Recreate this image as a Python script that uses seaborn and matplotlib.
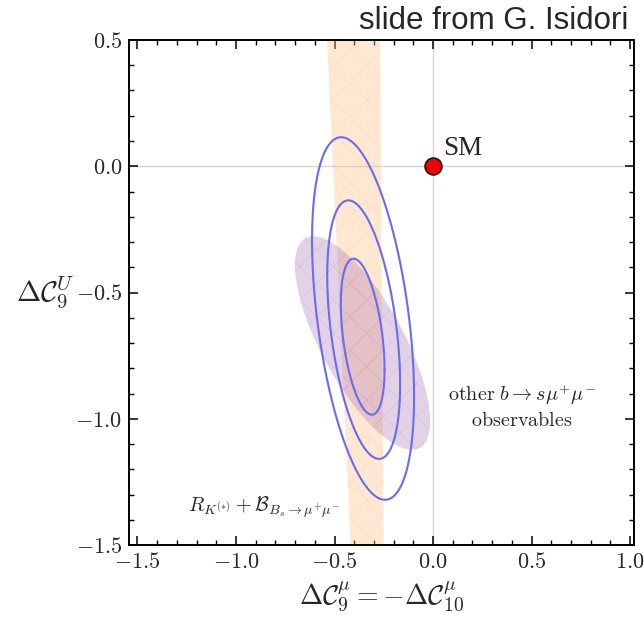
import numpy as np
import pandas as pd
import matplotlib
matplotlib.use("Agg")
import matplotlib.pyplot as plt
import seaborn as sns
from matplotlib.ticker import MultipleLocator, FixedLocator, FixedFormatter

# --- fit regions -----------------------------------------------------------
# R_K(*) + B(Bs -> mu mu) band: x edges at the top (y=0.5) and bottom (y=-1.5)
band_y = [0.5, -1.5]
band_left = [-0.538, -0.418]
band_right = [-0.269, -0.251]

# other b -> s mu mu observables: filled ellipse
# (centre x, centre y, half-width in x, half-height in y, x-y correlation)
obs_center = [-0.358, -0.700]
obs_half = [0.343, 0.423]
obs_corr = -0.73

# global fit contours (1, 2, 3 sigma)
cont_cx = [-0.357, -0.352, -0.355]
cont_cy = [-0.675, -0.647, -0.603]
cont_hx = [0.111, 0.185, 0.259]
cont_hy = [0.309, 0.512, 0.718]
cont_corr = [-0.42, -0.42, -0.43]
cont_level = ["1sigma", "2sigma", "3sigma"]

# Standard Model point
sm_x = [0.0]
sm_y = [0.0]

x_ticks = [-1.5, -1.0, -0.5, 0.0, 0.5, 1.0]
y_ticks = [-1.5, -1.0, -0.5, 0.0, 0.5]


def ellipse(cx, cy, hx, hy, rho, n=400):
    t = np.linspace(0, 2 * np.pi, n)
    d = np.arccos(rho)
    return cx + hx * np.cos(t), cy + hy * np.cos(t - d)


sns.set_theme(style="ticks")
plt.rcParams["mathtext.fontset"] = "cm"
plt.rcParams["font.family"] = ["DejaVu Sans"]
plt.rcParams["hatch.linewidth"] = 0.5

fig = plt.figure(figsize=(6.44, 6.20), dpi=100)
ax = fig.add_axes([129 / 644, 1 - 545 / 620, (634 - 129) / 644, (545 - 40) / 620])

# reference lines through the SM point
ax.axvline(0, color="#d4d4d4", lw=1.0, zorder=0)
ax.axhline(0, color="#d4d4d4", lw=1.0, zorder=0)

# band
bx = [band_left[0], band_right[0], band_right[1], band_left[1]]
by = [band_y[0], band_y[0], band_y[1], band_y[1]]
ax.fill(bx, by, facecolor="#ffc58a", alpha=0.38, lw=0, zorder=1)
ax.fill(bx, by, facecolor="none", edgecolor="#f8c89a", hatch="x", lw=0, alpha=0.3, zorder=1.1)

# observables ellipse
ex, ey = ellipse(obs_center[0], obs_center[1], obs_half[0], obs_half[1], obs_corr)
ax.fill(ex, ey, facecolor="#9a5aa6", alpha=0.27, lw=0, zorder=2)
ax.fill(ex, ey, facecolor="none", edgecolor="#b58abd", hatch="x", lw=0, alpha=0.25, zorder=2.1)

# fit contours
rows = []
for lvl, cx, cy, hx, hy, r in zip(cont_level, cont_cx, cont_cy, cont_hx, cont_hy, cont_corr):
    x, y = ellipse(cx, cy, hx, hy, r)
    rows.append(pd.DataFrame({"x": x, "y": y, "level": lvl, "i": np.arange(len(x))}))
cont_df = pd.concat(rows, ignore_index=True)
sns.lineplot(data=cont_df, x="x", y="y", units="level", estimator=None, sort=False,
             color="#6a6af2", lw=1.5, ax=ax, zorder=3)

# SM point
sns.scatterplot(x=sm_x, y=sm_y, s=150, color="#ee0000", edgecolor="black",
                linewidth=1.0, ax=ax, zorder=5)
ax.text(0.05, 0.045, "SM", fontsize=19.5, family=["Liberation Serif", "DejaVu Serif"],
        ha="left", va="baseline", zorder=6)

ax.text(0.45, -0.905, r"$\mathrm{other}\ b\rightarrow s\mu^{+}\mu^{-}$", fontsize=14.5,
        ha="center", va="center")
ax.text(0.45, -1.005, r"$\mathrm{observables}$", fontsize=14.5, ha="center", va="center")
ax.text(-0.855, -1.35, r"$R_{K^{(*)}}+\mathcal{B}_{B_s\rightarrow\mu^{+}\mu^{-}}$",
        fontsize=14.5, ha="center", va="center")

ax.set_xlim(-1.543, 1.020)
ax.set_ylim(-1.5, 0.5)

ax.xaxis.set_major_locator(FixedLocator(x_ticks))
ax.xaxis.set_major_formatter(FixedFormatter([f"${v:.1f}$" for v in x_ticks]))
ax.yaxis.set_major_locator(FixedLocator(y_ticks))
ax.yaxis.set_major_formatter(FixedFormatter([f"${v:.1f}$" for v in y_ticks]))
ax.xaxis.set_minor_locator(MultipleLocator(0.1))
ax.yaxis.set_minor_locator(MultipleLocator(0.1))
ax.tick_params(which="both", direction="in", top=True, right=True, color="black",
               labelsize=16, pad=5)
ax.tick_params(which="major", length=6.5, width=1.1)
ax.tick_params(which="minor", length=3.6, width=1.0)
for s in ax.spines.values():
    s.set_linewidth(1.4)
    s.set_color("black")
    s.set_zorder(10)

ax.set_xlabel(r"$\Delta\mathcal{C}_9^{\mu}=-\Delta\mathcal{C}_{10}^{\mu}$", fontsize=20, labelpad=6)
ax.set_ylabel(r"$\Delta\mathcal{C}_9^{U}$", fontsize=21, rotation=0, labelpad=0)
ax.yaxis.set_label_coords(-0.166, 0.5)
ax.yaxis.label.set_va("center")
ax.yaxis.label.set_ha("center")

fig.text(628 / 644, 1 - 29 / 620, "slide from G. Isidori", fontsize=22.5,
         family=["Liberation Sans", "DejaVu Sans"], ha="right", va="baseline")

fig.savefig("out.png", dpi=100)
